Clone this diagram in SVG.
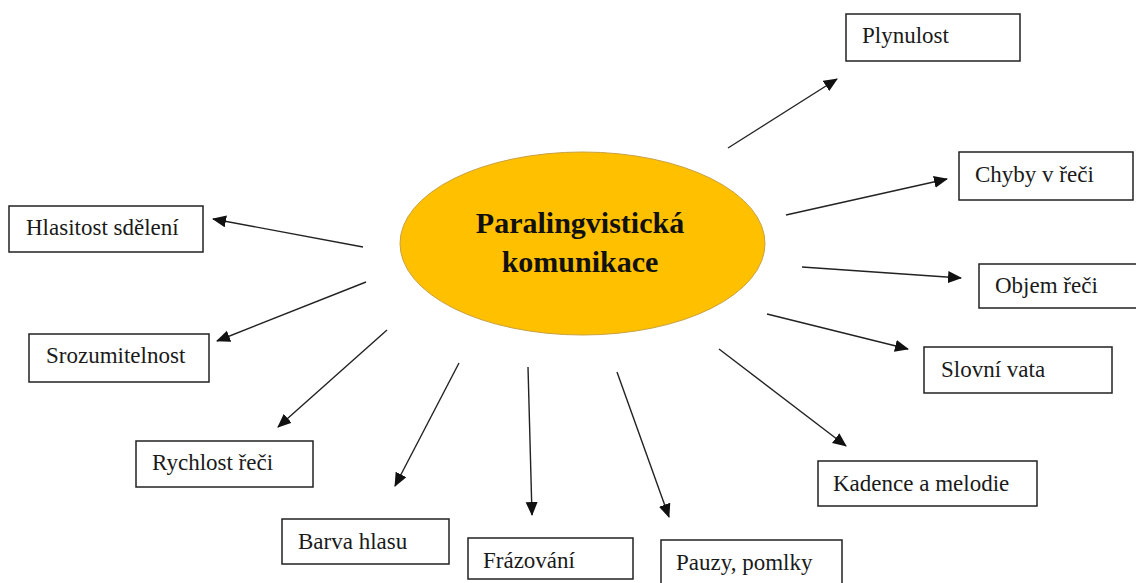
<svg xmlns="http://www.w3.org/2000/svg" width="1136" height="583" viewBox="0 0 1136 583">
<style>
.box{fill:#fff;stroke:#222;stroke-width:1.5}
.lbl{font-family:"Liberation Serif","Times New Roman",serif;font-size:23px;fill:#1a1a1a}
.title{font-family:"Liberation Serif","Times New Roman",serif;font-size:30px;font-weight:bold;fill:#111;text-anchor:middle}
.con line{stroke:#222;stroke-width:1.4;marker-end:url(#ah)}
</style>
<defs>
<marker id="ah" markerUnits="userSpaceOnUse" markerWidth="15" markerHeight="13" refX="13" refY="6" orient="auto">
<path d="M0,0 L14,6 L0,12 z" fill="#111"/>
</marker>
</defs>
<rect width="1136" height="583" fill="#fff"/>
<g id="center">
<ellipse cx="582.5" cy="243.5" rx="182.5" ry="91.5" fill="#FFC000" stroke="#C9A040" stroke-width="1"/>
<text class="title" x="580" y="233">Paralingvistická</text>
<text class="title" x="580" y="272">komunikace</text>
</g>
<g class="con" id="connectors">
<line x1="728" y1="148" x2="837" y2="79"/>
<line x1="786" y1="215" x2="947" y2="179"/>
<line x1="802" y1="267" x2="961" y2="278"/>
<line x1="767" y1="314" x2="908" y2="349"/>
<line x1="719" y1="349" x2="846" y2="446"/>
<line x1="617" y1="372" x2="669" y2="517"/>
<line x1="528" y1="367" x2="532" y2="515"/>
<line x1="459" y1="363" x2="395" y2="486"/>
<line x1="387" y1="330" x2="278" y2="427"/>
<line x1="366" y1="282" x2="217" y2="341"/>
<line x1="363" y1="247" x2="213" y2="219"/>
</g>
<g id="n-plynulost"><rect class="box" x="846" y="14" width="174" height="47"/><text class="lbl" x="862" y="43">Plynulost</text></g>
<g id="n-chyby"><rect class="box" x="959" y="152" width="174" height="48"/><text class="lbl" x="975" y="182">Chyby v řeči</text></g>
<g id="n-objem"><rect class="box" x="979" y="264" width="160" height="44"/><text class="lbl" x="995" y="293">Objem řeči</text></g>
<g id="n-vata"><rect class="box" x="924" y="347" width="188" height="46"/><text class="lbl" x="941" y="377">Slovní vata</text></g>
<g id="n-kadence"><rect class="box" x="818" y="461" width="219" height="45"/><text class="lbl" x="833" y="491">Kadence a melodie</text></g>
<g id="n-pauzy"><rect class="box" x="661" y="540" width="181" height="50"/><text class="lbl" x="676" y="570">Pauzy, pomlky</text></g>
<g id="n-frazovani"><rect class="box" x="468" y="538" width="165" height="41"/><text class="lbl" x="483" y="568">Frázování</text></g>
<g id="n-barva"><rect class="box" x="282" y="519" width="167" height="45"/><text class="lbl" x="298" y="549">Barva hlasu</text></g>
<g id="n-rychlost"><rect class="box" x="136" y="441" width="177" height="46"/><text class="lbl" x="152" y="470">Rychlost řeči</text></g>
<g id="n-srozumitelnost"><rect class="box" x="29" y="334" width="180" height="48"/><text class="lbl" x="46" y="363">Srozumitelnost</text></g>
<g id="n-hlasitost"><rect class="box" x="9" y="206" width="194" height="46"/><text class="lbl" x="26" y="235">Hlasitost sdělení</text></g>
</svg>
